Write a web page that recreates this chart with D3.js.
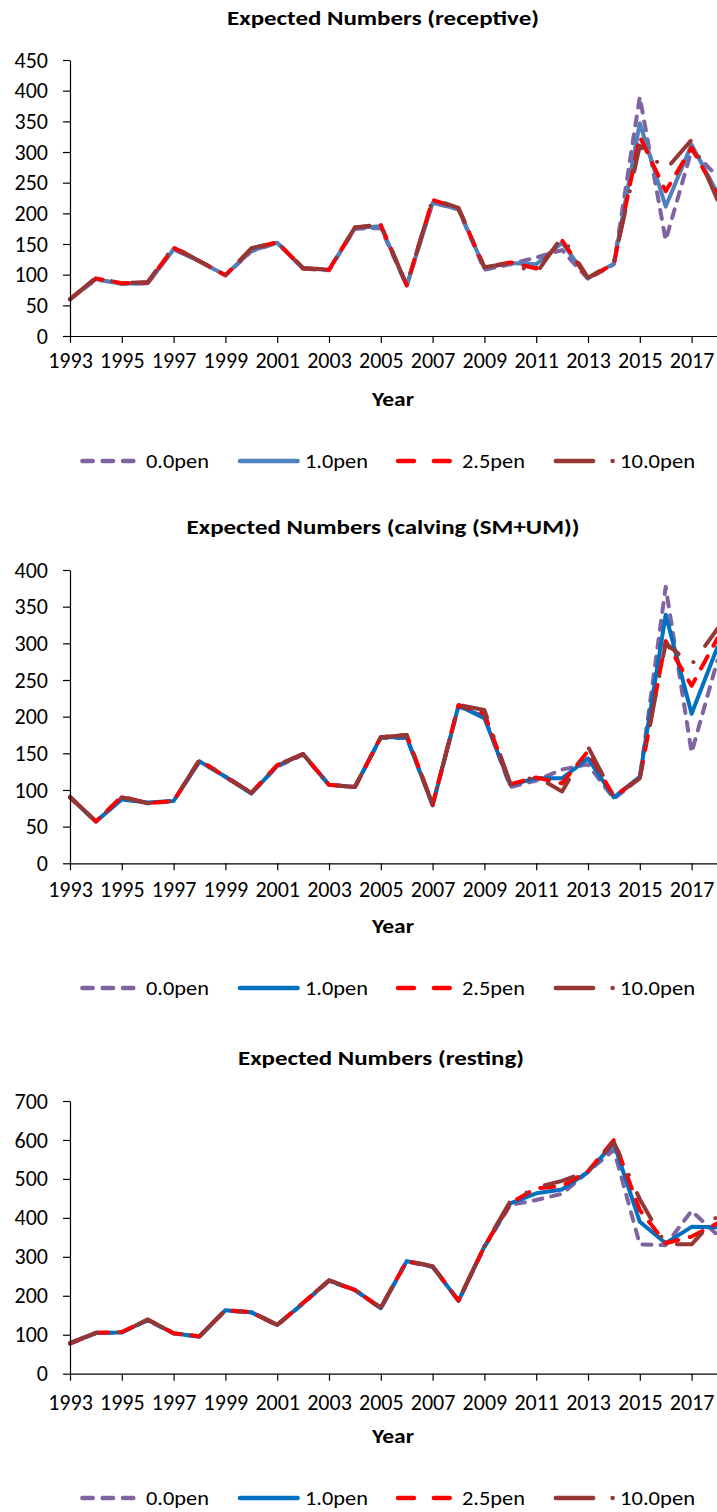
<!DOCTYPE html>
<html>
<head>
<meta charset="utf-8">
<script src="https://cdn.jsdelivr.net/npm/d3@7/dist/d3.min.js"></script>
<style>
body { margin: 0; background: #fff; }
text { font-family: Carlito, "Open Sans", sans-serif; fill: #000; }
</style>
</head>
<body>
<div id="charts"></div>
<script>
const years = [1993, 1994, 1995, 1996, 1997, 1998, 1999, 2000, 2001, 2002, 2003, 2004, 2005,
  2006, 2007, 2008, 2009, 2010, 2011, 2012, 2013, 2014, 2015, 2016, 2017, 2018];
const tickYears = [1993, 1995, 1997, 1999, 2001, 2003, 2005, 2007, 2009, 2011, 2013, 2015, 2017];
const seriesNames = ["0.0pen", "1.0pen", "2.5pen", "10.0pen"];

// receptive
const receptive00 = [60, 92, 85, 86, 142, 122, 99, 138, 152, 110, 107, 175, 176, 82, 218, 206, 108, 117, 128, 140, 93, 117, 390, 156, 303, 260];
const receptive10 = [60, 93, 85, 86, 141, 122, 99, 139, 152, 110, 108, 176, 179, 82, 217, 207, 111, 119, 117, 152, 94, 118, 347, 211, 312, 233];
const receptive25 = [60, 94, 86, 87, 144, 122, 99, 142, 153, 110, 108, 177, 181, 83, 222, 208, 112, 120, 110, 156, 94, 118, 325, 236, 307, 230];
const receptive100 = [60, 95, 86, 88, 146, 122, 99, 143, 153, 111, 108, 177, 182, 83, 223, 209, 112, 119, 102, 162, 95, 120, 310, 271, 320, 222];

// calving (SM+UM)
const calving00 = [90, 57, 88, 82, 85, 139, 118, 96, 132, 148, 107, 104, 171, 171, 80, 214, 200, 104, 113, 128, 135, 88, 116, 377, 151, 277];
const calving10 = [90, 57, 87, 83, 85, 139, 118, 95, 133, 149, 107, 104, 172, 172, 79, 215, 198, 107, 116, 116, 143, 90, 118, 339, 204, 295];
const calving25 = [90, 57, 91, 82, 85, 141, 118, 96, 134, 149, 107, 104, 172, 175, 80, 216, 204, 108, 117, 109, 153, 91, 116, 303, 242, 307];
const calving100 = [91, 57, 90, 82, 85, 141, 119, 96, 134, 149, 107, 104, 172, 175, 80, 216, 209, 109, 118, 98, 159, 91, 116, 300, 271, 320];

// resting
const resting00 = [77, 104, 106, 137, 103, 95, 162, 157, 124, 180, 238, 214, 168, 288, 274, 187, 325, 433, 446, 462, 518, 575, 332, 330, 418, 356];
const resting10 = [78, 105, 106, 138, 104, 95, 163, 158, 125, 181, 239, 215, 168, 289, 275, 187, 326, 437, 463, 473, 518, 591, 390, 335, 377, 376];
const resting25 = [78, 105, 107, 139, 104, 96, 163, 158, 125, 182, 239, 215, 169, 289, 276, 188, 327, 438, 476, 482, 520, 600, 420, 335, 352, 386];
const resting100 = [79, 105, 107, 139, 104, 96, 164, 158, 126, 182, 240, 216, 170, 290, 276, 188, 328, 443, 478, 495, 520, 594, 448, 332, 332, 405];

const width = 717;
const height = 1512;

const svg = d3.select("#charts")
  .append("svg")
  .attr("width", width)
  .attr("height", height);

// line looks, in series order
const looks = [
  { color: "#8064A2", dash: "9,9", legendDash: "10.3,10" },
  { color: null, dash: null, legendDash: null },
  { color: "#FF0000", dash: "14,12", legendDash: "15.8,20" },
  { color: "#953735", dash: "30,20,0.01,20", legendDash: "37.3,19.5,0.01,19.5" }
];

// legend sample start / length, label start / width
const legendPos = [
  { x: 82.4, len: 51, tx: 146, tw: 63 },
  { x: 240, len: 57.6, tx: 305, tw: 63 },
  { x: 398.1, len: 52.5, tx: 462, tw: 63 },
  { x: 555.8, len: 57.5, tx: 620, tw: 75 }
];

function drawChart(cfg) {
  const g = svg.append("g");

  const x = d3.scaleLinear()
    .domain([1993, 2018])
    .range([70, 717.5]);

  const y = d3.scaleLinear()
    .domain([0, cfg.ymax])
    .range([cfg.bottom, cfg.top]);

  // title
  g.append("text")
    .attr("x", cfg.titleX)
    .attr("y", cfg.titleY)
    .attr("text-anchor", "middle")
    .attr("textLength", cfg.titleW)
    .attr("lengthAdjust", "spacingAndGlyphs")
    .style("font-size", "20.5px")
    .style("font-weight", "bold")
    .text(cfg.title);

  // lines, first series at the bottom
  const line = d3.line()
    .x((d, i) => x(years[i]))
    .y(d => y(d));

  cfg.series.forEach((vals, k) => {
    const look = looks[k];
    g.append("path")
      .datum(vals)
      .attr("fill", "none")
      .attr("stroke", look.color || cfg.blue)
      .attr("stroke-width", 4)
      .attr("stroke-linecap", "round")
      .attr("stroke-linejoin", "round")
      .attr("stroke-dasharray", look.dash)
      .attr("d", line);
  });

  // y axis
  const yAxis = g.append("g")
    .attr("transform", "translate(70,0)")
    .call(d3.axisLeft(y)
      .tickValues(d3.range(0, cfg.ymax + 1, cfg.step))
      .tickSize(7)
      .tickSizeOuter(0)
      .tickPadding(15));
  yAxis.selectAll("text").style("font-size", "22px").attr("fill", "#000");

  // x axis
  const xAxis = g.append("g")
    .attr("transform", `translate(0,${cfg.bottom})`)
    .call(d3.axisBottom(x)
      .tickValues(tickYears)
      .tickFormat(d3.format("d"))
      .tickSize(7)
      .tickSizeOuter(0));
  xAxis.selectAll("text")
    .style("font-size", "22px")
    .attr("fill", "#000")
    .attr("dy", null)
    .attr("y", cfg.xLabelY - cfg.bottom);

  g.selectAll(".domain, .tick line").attr("stroke", "#000").attr("stroke-width", 1.2);

  // axis title
  g.append("text")
    .attr("x", 393)
    .attr("y", cfg.yearY)
    .attr("text-anchor", "middle")
    .attr("textLength", 42)
    .attr("lengthAdjust", "spacingAndGlyphs")
    .style("font-size", "20px")
    .style("font-weight", "bold")
    .text("Year");

  // legend
  seriesNames.forEach((name, k) => {
    const look = looks[k];
    const p = legendPos[k];
    g.append("line")
      .attr("x1", p.x)
      .attr("x2", p.x + p.len)
      .attr("y1", cfg.legendY)
      .attr("y2", cfg.legendY)
      .attr("stroke", look.color || cfg.blue)
      .attr("stroke-width", 4.5)
      .attr("stroke-linecap", "round")
      .attr("stroke-dasharray", look.legendDash);
    g.append("text")
      .attr("x", p.tx)
      .attr("y", cfg.legendY + 7)
      .attr("textLength", p.tw)
      .attr("lengthAdjust", "spacingAndGlyphs")
      .style("font-size", "21px")
      .text(name);
  });
}

drawChart({
  title: "Expected Numbers (receptive)",
  series: [receptive00, receptive10, receptive25, receptive100],
  ymax: 450, step: 50, top: 60, bottom: 336,
  blue: "#4F81BD",
  titleX: 383, titleW: 312,
  titleY: 25, xLabelY: 368, yearY: 406, legendY: 461
});

drawChart({
  title: "Expected Numbers (calving (SM+UM))",
  series: [calving00, calving10, calving25, calving100],
  ymax: 400, step: 50, top: 570, bottom: 863.3,
  blue: "#0070C0",
  titleX: 383, titleW: 393,
  titleY: 534, xLabelY: 897, yearY: 933, legendY: 988
});

drawChart({
  title: "Expected Numbers (resting)",
  series: [resting00, resting10, resting25, resting100],
  ymax: 700, step: 100, top: 1101, bottom: 1373.7,
  blue: "#0070C0",
  titleX: 381, titleW: 286,
  titleY: 1065, xLabelY: 1410, yearY: 1443, legendY: 1498
});
</script>
</body>
</html>
